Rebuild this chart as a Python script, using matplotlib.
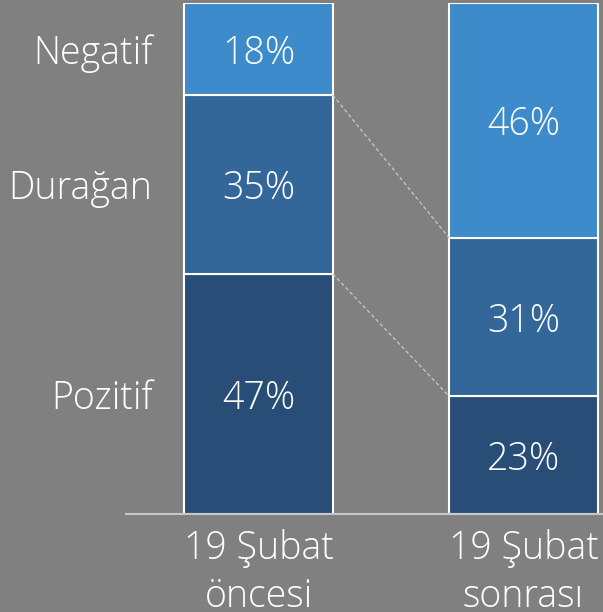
import matplotlib.pyplot as plt
import numpy as np

donemler = ["19 Şubat\nöncesi", "19 Şubat\nsonrası"]
kategoriler = ["Pozitif", "Durağan", "Negatif"]
oncesi = [47, 35, 18]
sonrasi = [23, 31, 46]
renkler = ["#284E78", "#336699", "#3D8BCA"]
zemin = "#808080"

plt.rcParams['font.family'] = ['Open Sans', 'DejaVu Sans']
plt.rcParams['font.weight'] = 'light'
fs = 27

fig = plt.figure(figsize=(6.03, 6.12), dpi=100, facecolor=zemin)
ax = fig.add_axes([126 / 603, 98 / 612, 477 / 603, 511 / 612])
ax.set_facecolor(zemin)

x = np.arange(len(donemler))
w = 0.56
veri = np.array([oncesi, sonrasi]) / 100.0
alt = np.zeros(len(donemler))
for i in range(len(kategoriler)):
    ax.bar(x, veri[:, i], w, bottom=alt, color=renkler[i], edgecolor="white", linewidth=1.5)
    for j in range(len(donemler)):
        ax.text(x[j], alt[j] + veri[j, i] / 2, f"{int(round(veri[j, i] * 100))}%",
                ha="center", va="center_baseline", color="white", fontsize=fs)
    alt = alt + veri[:, i]

# kesikli bağlantı çizgileri
kum1 = np.cumsum(oncesi) / 100.0
kum2 = np.cumsum(sonrasi) / 100.0
for k in range(2):
    ax.plot([x[0] + w / 2, x[1] - w / 2], [kum1[k], kum2[k]], ls=(0, (3, 2)),
            color="#c8c8c8", lw=0.9)

# sol etiketler
alt1 = np.concatenate([[0], kum1[:-1]])
for i, k in enumerate(kategoriler):
    ax.text(x[0] - w / 2 - 0.12, alt1[i] + oncesi[i] / 200.0, k, ha="right",
            va="center_baseline", color="white", fontsize=fs)

ax.set_xlim(-0.5, 1.3)
ax.set_ylim(0, 1.0)
ax.set_yticks([])
ax.set_xticks(x)
ax.set_xticklabels(donemler, color="white", fontsize=fs, linespacing=1.3)
ax.tick_params(axis="x", length=0, pad=11)
for s in ["top", "right", "left"]:
    ax.spines[s].set_visible(False)
ax.spines["bottom"].set_color("#c8c8c8")
ax.spines["bottom"].set_linewidth(1.5)

fig.savefig("out.png", dpi=100, facecolor=zemin)
